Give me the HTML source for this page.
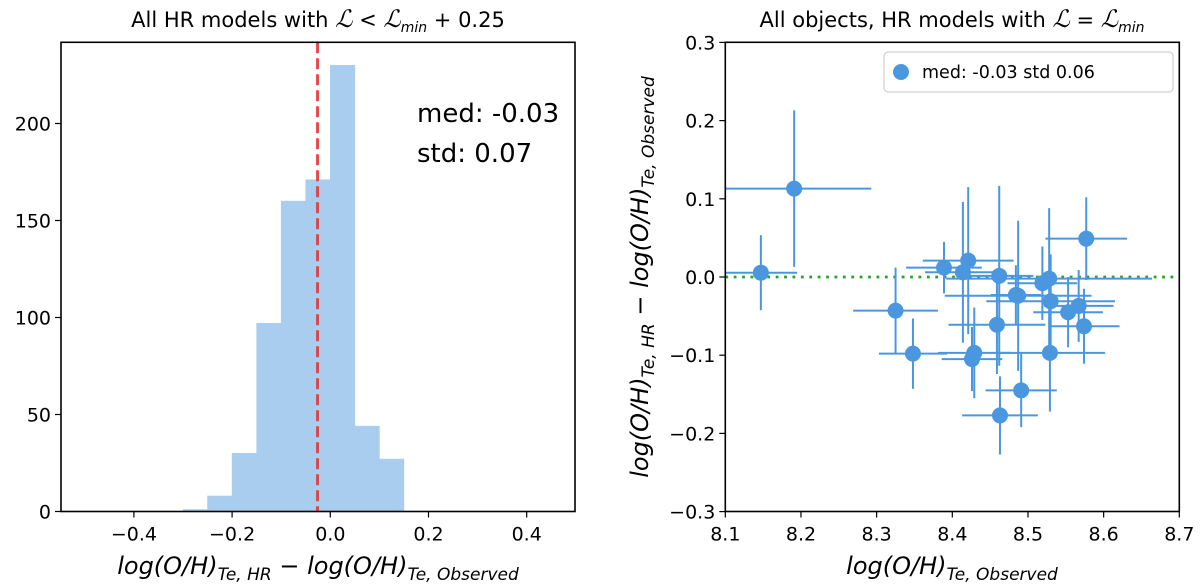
<!DOCTYPE html>
<html><head><meta charset="utf-8"><style>
html,body{margin:0;padding:0;background:#fff;}
svg{display:block;font-family:"DejaVu Sans","Liberation Sans",sans-serif;}
</style></head><body>
<svg id="fig" width="1200" height="588" viewBox="0 0 1200 588" xmlns="http://www.w3.org/2000/svg">
<g id="left"></g>
<g id="right"></g>
</svg>
<script>
// ---- Histogram data ----
const binEdges = [-0.3,-0.25,-0.2,-0.15,-0.1,-0.05,0.0,0.05,0.1,0.15];
const binCounts = [1,8,30,97,160,171,230,44,27];
const medianValue = -0.026;
const histXTicks = [-0.4,-0.2,0.0,0.2,0.4];
const histXTickLabels = ["\u22120.4","\u22120.2","0.0","0.2","0.4"];
const histYTicks = [0,50,100,150,200];
// ---- Scatter data ----
const obsX = [8.147,8.191,8.325,8.348,8.389,8.414,8.421,8.429,8.426,8.462,8.459,8.463,8.487,8.484,8.491,8.519,8.528,8.530,8.529,8.553,8.567,8.574,8.577];
const diffY = [0.0055,0.113,-0.043,-0.098,0.012,0.006,0.021,-0.097,-0.105,0.0015,-0.061,-0.177,-0.024,-0.023,-0.145,-0.008,-0.002,-0.031,-0.097,-0.045,-0.037,-0.063,0.049];
const errX = [0.048,0.102,0.056,0.045,0.05,0.05,0.06,0.048,0.04,0.045,0.064,0.05,0.097,0.033,0.047,0.046,0.136,0.085,0.073,0.046,0.046,0.047,0.054];
const errY = [0.048,0.10,0.055,0.045,0.033,0.09,0.094,0.058,0.041,0.115,0.063,0.05,0.096,0.038,0.047,0.047,0.09,0.06,0.075,0.045,0.046,0.048,0.053];
const scatXTicks = [8.1,8.2,8.3,8.4,8.5,8.6,8.7];
const scatYTicks = [-0.3,-0.2,-0.1,0.0,0.1,0.2,0.3];
const scatYTickLabels = ["\u22120.3","\u22120.2","\u22120.1","0.0","0.1","0.2","0.3"];

const NS="http://www.w3.org/2000/svg";
function mk(parent,tag,attrs,text){const e=document.createElementNS(NS,tag);for(const k in attrs)e.setAttribute(k,attrs[k]);if(text!==undefined)e.textContent=text;parent.appendChild(e);return e;}

// ---- Left panel ----
const L=document.getElementById('left');
const lx0=61,lx1=575,ly0=42.3,ly1=511.5;
const hx=v=>330.3+(v*491);
const hy=c=>511.5-c*1.94;
for(let i=0;i<binCounts.length;i++){
  const r=mk(L,'rect',{x:hx(binEdges[i]),y:hy(binCounts[i]),width:hx(binEdges[i+1])-hx(binEdges[i]),height:hy(0)-hy(binCounts[i]),fill:'#a8cdee',stroke:'#a8cdee','stroke-width':0.6});
  
  
}
const ml=mk(L,'line',{x1:hx(medianValue),x2:hx(medianValue),y1:ly0,y2:ly1,stroke:'#e03a3e','stroke-width':3,'stroke-dasharray':'11,5','stroke-opacity':0.9});


const lf=mk(L,'rect',{x:lx0,y:ly0,width:lx1-lx0,height:ly1-ly0,fill:'none',stroke:'#000','stroke-width':1.6});


histXTicks.forEach((t,i)=>{const x=hx(t);mk(L,'line',{x1:x,x2:x,y1:ly1,y2:ly1+6,stroke:'#000','stroke-width':1.2});
  const tl=mk(L,'text',{x:x,y:ly1+29,'text-anchor':'middle','font-size':19},histXTickLabels[i]);
  
  });
histYTicks.forEach(t=>{const y=hy(t);mk(L,'line',{x1:lx0-6,x2:lx0,y1:y,y2:y,stroke:'#000','stroke-width':1.2});
  const tl=mk(L,'text',{x:lx0-10,y:y+7,'text-anchor':'end','font-size':19},String(t));
  
  });
let t1=mk(L,'text',{x:318,y:27,'text-anchor':'middle','font-size':21},'');


t1.innerHTML='All HR models with <tspan font-style="italic" font-family="Liberation Serif,serif" font-size="24">ℒ</tspan> &lt; <tspan font-style="italic" font-family="Liberation Serif,serif" font-size="24">ℒ</tspan><tspan font-style="italic" font-size="14" dy="5">min</tspan><tspan dy="-5"> + 0.25</tspan>';
let s1=mk(L,'text',{x:417,y:122,'font-size':26},'med: -0.03');


let s2=mk(L,'text',{x:417,y:162,'font-size':26},'std: 0.07');


let xl=mk(L,'text',{x:318,y:574,'text-anchor':'middle','font-size':24,'font-style':'italic'},'');


xl.innerHTML='log(O/H)<tspan font-size="17" dy="6">Te, HR</tspan><tspan dy="-6" font-style="normal"> − </tspan>log(O/H)<tspan font-size="17" dy="6">Te, Observed</tspan>';

// ---- Right panel ----
const R=document.getElementById('right');
const rx0=725.3,rx1=1179.3,ry0=42.3,ry1=511.5;
const sx=v=>725.3+(v-8.1)*756.7;
const sy=v=>277-v*782;
const zl=mk(R,'line',{x1:rx0,x2:rx1,y1:sy(0),y2:sy(0),stroke:'#2ca02c','stroke-width':2.8,'stroke-dasharray':'2.8,5.6'});


const clipD=mk(R,'clipPath',{id:'rc'});mk(clipD,'rect',{x:rx0,y:ry0,width:rx1-rx0,height:ry1-ry0});
const pg=mk(R,'g',{'clip-path':'url(#rc)'});
for(let i=0;i<obsX.length;i++){
  const x=sx(obsX[i]),y=sy(diffY[i]);
  const g=mk(pg,'g',{});
  
  
  mk(g,'line',{x1:sx(obsX[i]-errX[i]),x2:sx(obsX[i]+errX[i]),y1:y,y2:y,stroke:'#4a97e0','stroke-width':2});
  mk(g,'line',{x1:x,x2:x,y1:sy(diffY[i]-errY[i]),y2:sy(diffY[i]+errY[i]),stroke:'#4a97e0','stroke-width':2});
}
for(let i=0;i<obsX.length;i++){
  const c=mk(pg,'circle',{cx:sx(obsX[i]),cy:sy(diffY[i]),r:8,fill:'#4a97e0'});
  
  
}
const rf=mk(R,'rect',{x:rx0,y:ry0,width:rx1-rx0,height:ry1-ry0,fill:'none',stroke:'#000','stroke-width':1.6});


scatXTicks.forEach(t=>{const x=sx(t);mk(R,'line',{x1:x,x2:x,y1:ry1,y2:ry1+6,stroke:'#000','stroke-width':1.2});
  const tl=mk(R,'text',{x:x,y:ry1+29,'text-anchor':'middle','font-size':19},t.toFixed(1));
  
  });
scatYTicks.forEach((t,i)=>{const y=sy(t);mk(R,'line',{x1:rx0-6,x2:rx0,y1:y,y2:y,stroke:'#000','stroke-width':1.2});
  const tl=mk(R,'text',{x:rx0-10,y:y+7,'text-anchor':'end','font-size':19},scatYTickLabels[i]);
  
  });
let t2=mk(R,'text',{x:952,y:27,'text-anchor':'middle','font-size':21},'');


t2.innerHTML='All objects, HR models with <tspan font-style="italic" font-family="Liberation Serif,serif" font-size="24">ℒ</tspan> = <tspan font-style="italic" font-family="Liberation Serif,serif" font-size="24">ℒ</tspan><tspan font-style="italic" font-size="14" dy="5">min</tspan>';
const lg=mk(R,'g',{});


mk(lg,'rect',{x:884,y:52,width:289,height:40,rx:4,fill:'#fff',stroke:'#d0d0d0','stroke-width':1.2});
mk(lg,'circle',{cx:901,cy:72,r:8,fill:'#4a97e0'});
let lt=mk(lg,'text',{x:922,y:78,'font-size':17.5},'med: -0.03 std 0.06');


let xl2=mk(R,'text',{x:952,y:574,'text-anchor':'middle','font-size':24,'font-style':'italic'},'');


xl2.innerHTML='log(O/H)<tspan font-size="17" dy="6">Te, Observed</tspan>';
let yl2=mk(R,'text',{x:0,y:0,'text-anchor':'middle','font-size':24,'font-style':'italic',transform:'translate(648,277) rotate(-90)'},'');


yl2.innerHTML='log(O/H)<tspan font-size="17" dy="6">Te, HR</tspan><tspan dy="-6" font-style="normal"> − </tspan>log(O/H)<tspan font-size="17" dy="6">Te, Observed</tspan>';
</script>
</body></html>
